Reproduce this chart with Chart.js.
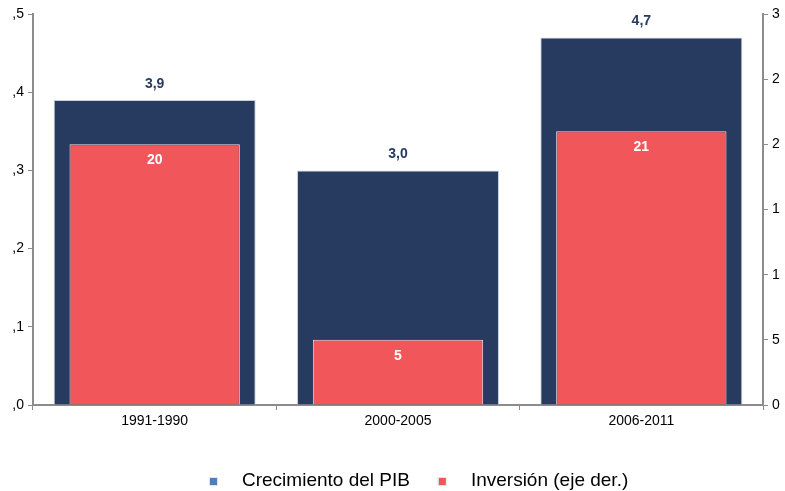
<!DOCTYPE html>
<html>
<head>
<meta charset="utf-8">
<script src="https://cdn.jsdelivr.net/npm/chart.js@4"></script>
<style>
  html, body { margin: 0; padding: 0; background: #fff; }
  #wrap { width: 785px; height: 491px; }
</style>
</head>
<body>
<div id="wrap"><canvas id="myChart"></canvas></div>
<script>
const periods = ['1991-1990', '2000-2005', '2006-2011'];
const pibGrowth = [3.9, 3.0, 4.7];
const inversion = [20, 5, 21];
const leftTicks = [',0', ',1', ',2', ',3', ',4', ',5'];
const rightTicks = ['0', '5', '1', '1', '2', '2', '3'];
const legendNames = ['Crecimiento del PIB', 'Inversión (eje der.)'];

const navy = '#273a5f';
const red = '#f0565a';
const axisGrey = '#8c8c8c';
const fontFam = '"Liberation Sans", Arial, sans-serif';

// value labels on the bars
const barLabels = {
  id: 'barLabels',
  afterDatasetsDraw(chart) {
    const ctx = chart.ctx;
    ctx.save();
    ctx.textAlign = 'center';
    ctx.textBaseline = 'middle';
    ctx.font = 'bold 14px ' + fontFam;
    chart.getDatasetMeta(0).data.forEach((bar, i) => {
      ctx.fillStyle = navy;
      ctx.fillText(pibGrowth[i].toFixed(1).replace('.', ','), bar.x, bar.y - 16);
    });
    chart.getDatasetMeta(1).data.forEach((bar, i) => {
      ctx.fillStyle = '#ffffff';
      ctx.fillText(String(inversion[i]), bar.x, bar.y + 16);
    });
    ctx.restore();
  }
};

// legend at the bottom, small squares well apart from the text
const bottomLegend = {
  id: 'bottomLegend',
  afterDraw(chart) {
    const ctx = chart.ctx;
    const fills = ['#4f7dbd', red];
    const y = chart.height - 10;
    let x = 209;
    ctx.save();
    ctx.font = '19px ' + fontFam;
    ctx.textBaseline = 'middle';
    legendNames.forEach((name, i) => {
      ctx.fillStyle = fills[i];
      ctx.fillRect(x, y - 4, 8, 8);
      ctx.strokeStyle = '#dfe6f0';
      ctx.lineWidth = 1;
      ctx.strokeRect(x + 0.5, y - 3.5, 8, 8);
      ctx.fillStyle = '#000';
      ctx.fillText(name, x + 33, y);
      x += 33 + ctx.measureText(name).width + 28;
    });
    ctx.restore();
  }
};

const data = {
  labels: periods,
  datasets: [
    {
      label: legendNames[0],
      data: pibGrowth,
      yAxisID: 'y',
      backgroundColor: navy,
      borderColor: '#c9ced8',
      borderWidth: 1,
      grouped: false,
      categoryPercentage: 1,
      barPercentage: 0.83,
      order: 1
    },
    {
      label: legendNames[1],
      data: inversion,
      yAxisID: 'y1',
      backgroundColor: red,
      borderColor: '#f4dede',
      borderWidth: 1,
      grouped: false,
      categoryPercentage: 1,
      barPercentage: 0.70,
      order: 0
    }
  ]
};

const config = {
  type: 'bar',
  data: data,
  plugins: [barLabels, bottomLegend],
  options: {
    responsive: true,
    maintainAspectRatio: false,
    animation: false,
    layout: { padding: { top: 14, bottom: 46 } },
    plugins: {
      tooltip: { enabled: false },
      legend: { display: false }
    },
    scales: {
      x: {
        grid: { drawOnChartArea: false, color: axisGrey, tickLength: 5 },
        border: { color: axisGrey, width: 2 },
        ticks: {
          color: '#000',
          padding: 3,
          font: { family: fontFam, size: 14 }
        },
        afterFit(scale) { scale.height = 40; }
      },
      y: {
        position: 'left',
        min: 0,
        max: 5,
        grid: { drawOnChartArea: false, color: axisGrey, tickLength: 5 },
        border: { color: axisGrey, width: 2 },
        ticks: {
          stepSize: 1,
          color: '#000',
          padding: 4,
          font: { family: fontFam, size: 14 },
          callback: (v, i) => leftTicks[i]
        },
        afterFit(scale) { scale.width = 33; }
      },
      y1: {
        position: 'right',
        min: 0,
        max: 30,
        grid: { drawOnChartArea: false, color: axisGrey, tickLength: 5 },
        border: { color: axisGrey, width: 2 },
        ticks: {
          stepSize: 5,
          color: '#000',
          padding: 4,
          font: { family: fontFam, size: 14 },
          callback: (v, i) => rightTicks[i]
        },
        afterFit(scale) { scale.width = 22; }
      }
    }
  }
};

const myChart = new Chart(document.getElementById('myChart'), config);
</script>
</body>
</html>
